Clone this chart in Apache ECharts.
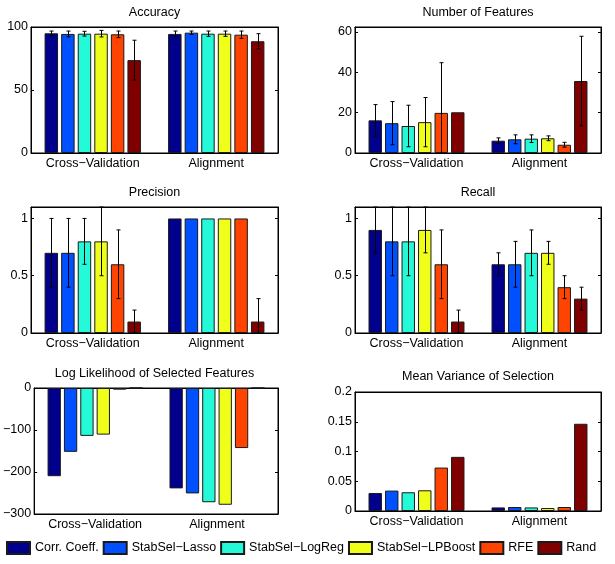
<!DOCTYPE html>
<html>
<head>
<meta charset="utf-8">
<script src="https://cdn.jsdelivr.net/npm/echarts@6/dist/echarts.min.js"></script>
<style>
  html, body { margin: 0; padding: 0; background: #fff; }
  #chart { width: 615px; height: 564px; }
</style>
</head>
<body>
<div id="chart"></div>
<script>
// categories and methods
const categories = ['Cross\u2212Validation', 'Alignment'];
const methods = ['Corr. Coeff.', 'StabSel\u2212Lasso', 'StabSel\u2212LogReg', 'StabSel\u2212LPBoost', 'RFE', 'Rand'];
const colors = ['#00008c', '#0050ff', '#24fad8', '#f0ff1a', '#ff4300', '#800000'];

// one row per method: [Cross-Validation, Alignment]
const accuracyMean = [[95, 94.5], [94.5, 95.5], [94.7, 94.7], [94.7, 94.7], [94.2, 93.9], [73.7, 88.7]];
const accuracyErr = [[1.8, 2.3], [2.3, 1.3], [1.9, 2.1], [2.6, 2.1], [2.6, 2.9], [15.8, 6]];
const featuresMean = [[16.2, 6.1], [14.8, 6.8], [13.4, 7.1], [15.3, 7.3], [19.9, 4.1], [20.2, 35.7]];
const featuresErr = [[7.8, 1.4], [10.7, 2.2], [10.3, 1.9], [12.2, 1.2], [24.9, 1.2], [0, 22.2]];
const precisionMean = [[0.7, 1], [0.7, 1], [0.8, 1], [0.8, 1], [0.6, 1], [0.1, 0.1]];
const precisionErr = [[0.3, 0], [0.3, 0], [0.2, 0], [0.3, 0], [0.3, 0], [0.1, 0.2]];
const recallMean = [[0.9, 0.6], [0.8, 0.6], [0.8, 0.7], [0.9, 0.7], [0.6, 0.4], [0.1, 0.3]];
const recallErr = [[0.2, 0.1], [0.3, 0.2], [0.3, 0.2], [0.2, 0.1], [0.3, 0.1], [0.1, 0.1]];
const logLikelihood = [[-210, -239], [-152, -251], [-114, -272], [-111, -278], [-4, -143], [0, 0]];
const meanVariance = [[0.0303, 0.006], [0.0343, 0.0067], [0.0315, 0.006], [0.0348, 0.005], [0.073, 0.0067], [0.091, 0.1466]];

const FONT = 'Liberation Sans';
const FS = 12.5;
const CAT_GAP = 0.22;
const BAR_GAP = 0.23;

const panels = [
  { title: 'Accuracy', cx: 154.5, titleTop: 6, grid: { left: 31, top: 27, width: 247, height: 126 },
    y: { min: 0, max: 100, interval: 50 }, mean: accuracyMean, err: accuracyErr },
  { title: 'Number of Features', cx: 478, titleTop: 6, grid: { left: 355, top: 27, width: 246, height: 126 },
    y: { min: 0, max: 62.5, interval: 20 }, mean: featuresMean, err: featuresErr, hideMax: true },
  { title: 'Precision', cx: 154.5, titleTop: 186, grid: { left: 31, top: 207, width: 247, height: 126 },
    y: { min: 0, max: 1.1, interval: 0.5 }, mean: precisionMean, err: precisionErr, hideMax: true },
  { title: 'Recall', cx: 478, titleTop: 186, grid: { left: 355, top: 207, width: 246, height: 126 },
    y: { min: 0, max: 1.1, interval: 0.5 }, mean: recallMean, err: recallErr, hideMax: true },
  { title: 'Log Likelihood of Selected Features', cx: 154.5, titleTop: 367, grid: { left: 31, top: 388, width: 247, height: 126 },
    y: { min: -300, max: 0, interval: 100 }, mean: logLikelihood },
  { title: 'Mean Variance of Selection', cx: 478, titleTop: 370, grid: { left: 355, top: 392, width: 246, height: 119 },
    y: { min: 0, max: 0.2, interval: 0.05 }, mean: meanVariance }
];

function errorRenderer(k) {
  return function (params, api) {
    const cat = api.value(0), v = api.value(1), e = api.value(2);
    if (!e) return null;
    const band = api.size([1, 0])[0];
    const total = band * (1 - CAT_GAP);
    const bw = total / (methods.length + (methods.length - 1) * BAR_GAP);
    const x = Math.round(api.coord([cat, 0])[0] - total / 2 + k * bw * (1 + BAR_GAP) + bw / 2) + 0.5;
    const rect = params.coordSys;
    let yTop = api.coord([cat, v + e])[1];
    let yBot = api.coord([cat, v - e])[1];
    const children = [];
    const style = { stroke: '#000', lineWidth: 1 };
    if (yTop >= rect.y) children.push({ type: 'line', shape: { x1: x - 2, y1: yTop, x2: x + 2, y2: yTop }, style: style });
    else yTop = rect.y;
    if (yBot <= rect.y + rect.height) children.push({ type: 'line', shape: { x1: x - 2, y1: yBot, x2: x + 2, y2: yBot }, style: style });
    else yBot = rect.y + rect.height;
    children.push({ type: 'line', shape: { x1: x, y1: yTop, x2: x, y2: yBot }, style: style });
    return { type: 'group', children: children };
  };
}

const fmt = v => String(v).replace('-', '\u2212');
const titles = [], grids = [], xAxes = [], yAxes = [], bars = [], errs = [];

panels.forEach((p, i) => {
  titles.push({
    text: p.title, left: p.cx, top: p.titleTop, textAlign: 'center', padding: 0,
    textStyle: { fontFamily: FONT, fontSize: FS, fontWeight: 'normal', color: '#000' }
  });
  grids.push(Object.assign({ show: true, borderColor: '#000', borderWidth: 1, backgroundColor: '#fff' }, p.grid));
  const xBase = {
    type: 'category', data: categories, gridIndex: i,
    axisLine: { onZero: false, lineStyle: { color: '#000', width: 1 } },
    axisTick: { inside: true, alignWithLabel: true, length: 3, lineStyle: { color: '#000' } }
  };
  xAxes.push(Object.assign({}, xBase, {
    position: 'bottom',
    axisLabel: { color: '#000', fontFamily: FONT, fontSize: FS, margin: 4, interval: 0, hideOverlap: false }
  }));
  xAxes.push(Object.assign({}, xBase, { position: 'top', axisLabel: { show: false } }));
  const yBase = {
    type: 'value', gridIndex: i, min: p.y.min, max: p.y.max, interval: p.y.interval,
    splitLine: { show: false },
    axisLine: { show: true, onZero: false, lineStyle: { color: '#000', width: 1 } },
    axisTick: { show: true, inside: true, length: 3, lineStyle: { color: '#000' } }
  };
  yAxes.push(Object.assign({}, yBase, {
    position: 'left',
    axisLabel: { color: '#000', fontFamily: FONT, fontSize: FS, margin: 3, formatter: fmt, showMaxLabel: !p.hideMax }
  }));
  yAxes.push(Object.assign({}, yBase, { position: 'right', axisLabel: { show: false } }));

  methods.forEach((m, k) => {
    bars.push({
      type: 'bar', name: m, xAxisIndex: 2 * i, yAxisIndex: 2 * i,
      data: p.mean[k], barGap: (BAR_GAP * 100) + '%', barCategoryGap: (CAT_GAP * 100) + '%',
      itemStyle: { color: colors[k], borderColor: '#1a1a1a', borderWidth: 1 },
      emphasis: { disabled: true }, z: 2
    });
    if (p.err) {
      errs.push({
        type: 'custom', xAxisIndex: 2 * i, yAxisIndex: 2 * i,
        renderItem: errorRenderer(k),
        encode: { x: 0, y: 1 },
        data: p.mean[k].map((v, c) => [c, v, p.err[k][c]]),
        z: 5, silent: true
      });
    }
  });
});

const chart = echarts.init(document.getElementById('chart'));
chart.setOption({
  animation: false,
  title: titles,
  grid: grids,
  xAxis: xAxes,
  yAxis: yAxes,
  legend: {
    data: methods, left: 6, top: 541, padding: 0, itemWidth: 23, itemHeight: 12, itemGap: 4, icon: 'rect',
    textStyle: { fontFamily: FONT, fontSize: FS, color: '#000' }
  },
  series: bars.concat(errs)
});
</script>
</body>
</html>
